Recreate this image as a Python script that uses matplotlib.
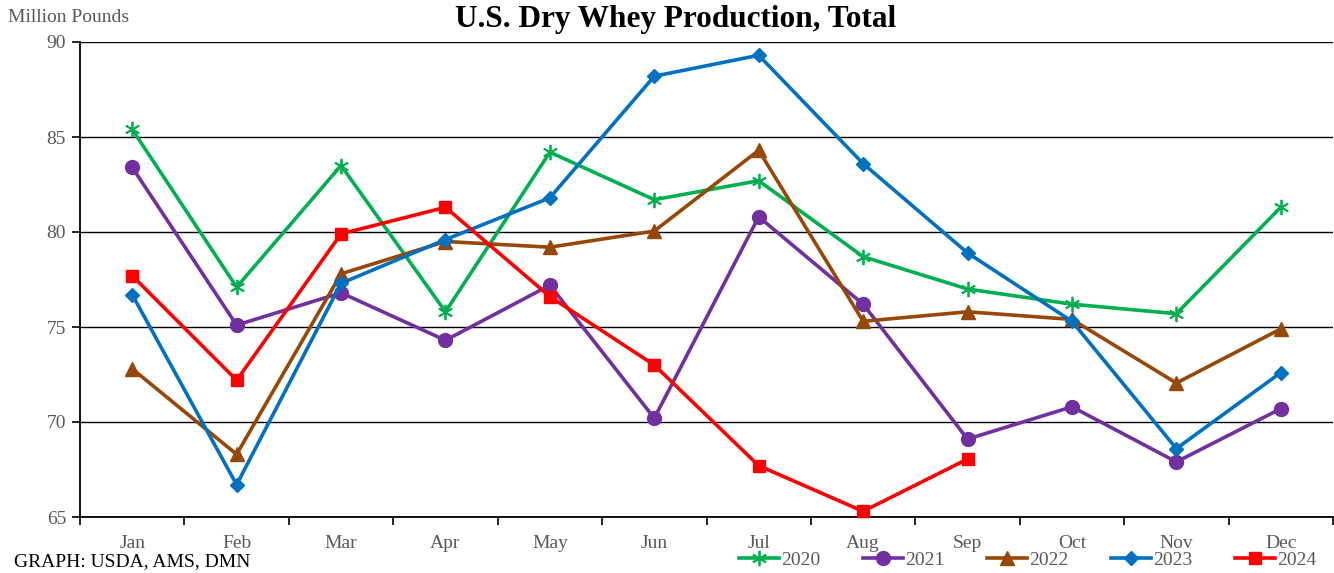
import matplotlib
matplotlib.use("Agg")
import matplotlib.pyplot as plt
import numpy as np

plt.rcParams['font.family'] = ['Liberation Serif', 'DejaVu Serif']

months = ["Jan", "Feb", "Mar", "Apr", "May", "Jun", "Jul", "Aug", "Sep", "Oct", "Nov", "Dec"]
y2020 = [85.4, 77.1, 83.5, 75.8, 84.2, 81.7, 82.7, 78.7, 77.0, 76.2, 75.7, 81.3]
y2021 = [83.4, 75.1, 76.8, 74.3, 77.2, 70.2, 80.8, 76.2, 69.1, 70.8, 67.9, 70.7]
y2022 = [72.8, 68.3, 77.8, 79.5, 79.2, 80.05, 84.3, 75.3, 75.8, 75.4, 72.05, 74.9]
y2023 = [76.7, 66.7, 77.3, 79.6, 81.8, 88.2, 89.3, 83.6, 78.9, 75.3, 68.6, 72.6]
y2024 = [77.7, 72.2, 79.9, 81.3, 76.6, 73.0, 67.7, 65.3, 68.05]

series = [
    ("2020", y2020, "#00B050", (6, 2, 0), 11),
    ("2021", y2021, "#7030A0", "o", 10),
    ("2022", y2022, "#974706", "^", 10),
    ("2023", y2023, "#0070C0", "D", 7.5),
    ("2024", y2024, "#FF0000", "s", 9),
]

fig = plt.figure(figsize=(13.34, 5.73), dpi=100)
ax = fig.add_axes([80/1334, 56/573, 1253/1334, 475/573])

x = np.arange(len(months))
for name, vals, col, mk, ms in series:
    xs = x[:len(vals)]
    kw = dict(color=col, lw=2.6, marker=mk, markersize=ms, label=name, clip_on=False, zorder=3)
    if mk == (6, 2, 0):
        kw.update(markeredgewidth=1.3, markeredgecolor=col)
    ax.plot(xs, vals, **kw)

ax.set_xlim(-0.5, 11.5)
ax.set_ylim(65, 90)
ax.set_yticks([65, 70, 75, 80, 85, 90])
ax.yaxis.grid(True, color='black', lw=1.0)
ax.set_axisbelow(True)
ax.set_xticks(np.arange(-0.5, 12.0, 1.0))
ax.set_xticklabels([])
ax.set_xticks(x, minor=True)
ax.set_xticklabels(months, minor=True)
ax.tick_params(axis='x', which='major', direction='out', length=6, width=1.2, color='black')
ax.tick_params(axis='x', which='minor', length=0, pad=13, labelsize=14, labelcolor='#595959')
ax.tick_params(axis='y', direction='out', length=6, width=1.2, labelsize=14, labelcolor='#595959', pad=4)
for s in ['top', 'right']:
    ax.spines[s].set_visible(False)
for s in ['left', 'bottom']:
    ax.spines[s].set_linewidth(1.3)

fig.text(8/1334, 1 - 18/573, "Million Pounds", fontsize=14, color='#595959', va='center', ha='left')
fig.text(676/1334, 1 - 20/573, "U.S. Dry Whey Production, Total", fontsize=22.5, fontweight='bold', va='center', ha='center')
fig.text(14/1334, 1 - 562/573, "GRAPH: USDA, AMS, DMN", fontsize=14, va='center', ha='left')

leg = fig.legend(loc='center right', bbox_to_anchor=(1316/1334, 1 - 560/573), ncol=5, frameon=False,
                 fontsize=14, handlelength=2.05, handletextpad=0.1, columnspacing=2.2,
                 borderaxespad=0, borderpad=0)
for t in leg.get_texts():
    t.set_color('#595959')

fig.savefig("out.png", dpi=100)
